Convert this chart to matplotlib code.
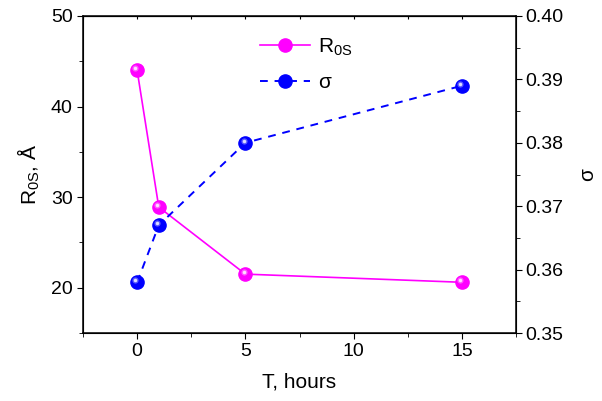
import matplotlib
matplotlib.use("Agg")
import matplotlib.pyplot as plt
from matplotlib.transforms import offset_copy
from matplotlib.ticker import MultipleLocator

plt.rcParams['font.family'] = ['Liberation Sans', 'DejaVu Sans']

T     = [0, 1, 5, 15]
r0s   = [44.0, 28.9, 21.5, 20.6]
sigma = [0.358, 0.367, 0.380, 0.389]

fig = plt.figure(figsize=(6.02, 4.01), dpi=100)
ax = fig.add_axes([83/602, 1-333/401, (516-83)/602, (333-16)/401])
ax2 = ax.twinx()

def sphere(a, x, y, col, **kw):
    ln, = a.plot(x, y, color=col, marker='o', markersize=9.5, markeredgecolor=col,
                 markerfacecolor=col, **kw)
    # shiny highlight
    tr = offset_copy(a.transData, fig=fig, x=-1.2, y=1.4, units='points')
    a.plot(x, y, ls='none', marker='o', markersize=4.5, color='white', alpha=0.35,
           markeredgewidth=0, transform=tr)
    a.plot(x, y, ls='none', marker='o', markersize=2.5, color='white', alpha=0.8,
           markeredgewidth=0, transform=tr)
    return ln

l1 = sphere(ax, T, r0s, '#ff00ff', lw=1.2)
l2 = sphere(ax2, T, sigma, '#0000ff', lw=1.4, ls=(0, (4, 3.5)))

ax.set_xlim(-2.5, 17.5)
ax.set_ylim(15, 50)
ax2.set_ylim(0.35, 0.40)
ax.set_xticks([0, 5, 10, 15])
ax.xaxis.set_minor_locator(MultipleLocator(2.5))
ax.set_yticks([20, 30, 40, 50])
ax.yaxis.set_minor_locator(MultipleLocator(5))
ax2.set_yticks([0.35, 0.36, 0.37, 0.38, 0.39, 0.40])
ax2.yaxis.set_minor_locator(MultipleLocator(0.005))

for a in (ax, ax2):
    a.tick_params(which='both', direction='out', labelsize=14, pad=3)
    a.tick_params(which='major', length=4.5)
    a.tick_params(which='minor', length=3)
ax2.tick_params(axis='y', pad=2)
ax.tick_params(top=False)
ax.secondary_xaxis('top').tick_params(which='both', direction='in', length=2, labeltop=False)
for s in ['left', 'right', 'top', 'bottom']:
    ax2.spines[s].set_linewidth(1.1)

ax.set_xlabel("T, hours", fontsize=15, labelpad=9)
ax.set_ylabel(r"$\mathregular{R_{0S}}$, Å", fontsize=15, labelpad=6)
ax2.set_ylabel("σ", fontsize=15, labelpad=11)

ax.legend([l1, l2], [r'$\mathregular{R_{0S}}$', 'σ'], loc='upper left',
          bbox_to_anchor=(0.365, 0.995), frameon=False, fontsize=15,
          handlelength=2.4, labelspacing=0.75, handletextpad=0.4)

fig.savefig("out.png", dpi=100)
